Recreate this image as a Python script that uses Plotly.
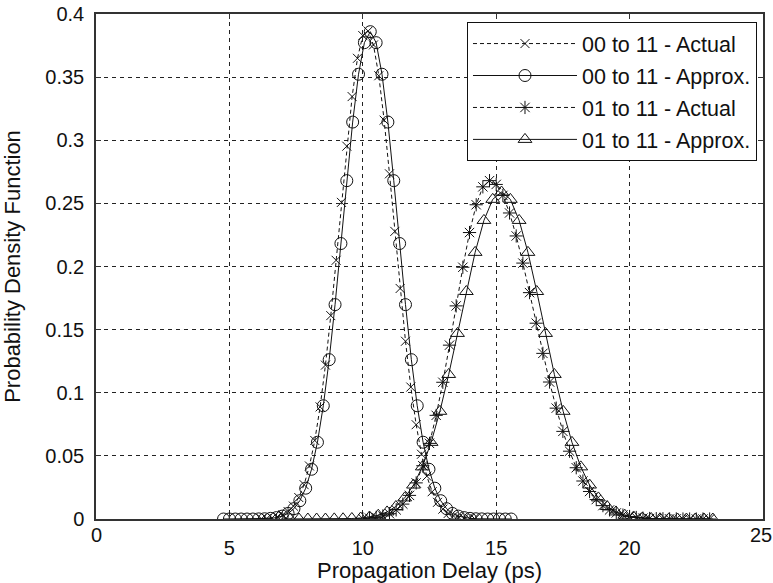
import plotly.graph_objects as go

# ---- data ----
# 00 to 11 - Actual (dashed, x markers)
x_00_actual = [6.2, 6.4, 6.6, 6.8, 7.0, 7.2, 7.4, 7.6, 7.8, 8.0, 8.2, 8.4, 8.6, 8.8, 9.0, 9.2,
               9.4, 9.6, 9.8, 10.0, 10.2, 10.4, 10.6, 10.8, 11.0, 11.2, 11.4, 11.6, 11.8, 12.0,
               12.2, 12.4, 12.6, 12.8, 13.0, 13.2, 13.4, 13.6, 13.8, 14.0, 14.2]
y_00_actual = [0.0002, 0.0004, 0.0009, 0.0018, 0.0033, 0.0059, 0.0102, 0.0170, 0.0272, 0.0420,
               0.0622, 0.0888, 0.1219, 0.1611, 0.2049, 0.2508, 0.2953, 0.3346, 0.3649, 0.3829,
               0.3865, 0.3755, 0.3511, 0.3159, 0.2734, 0.2278, 0.1826, 0.1408, 0.1045, 0.0747,
               0.0513, 0.0339, 0.0216, 0.0132, 0.0078, 0.0044, 0.0024, 0.0013, 0.0006, 0.0003, 0.0001]

# 00 to 11 - Approx. (solid, circles)
x_00_approx = [4.78, 5.00, 5.22, 5.44, 5.66, 5.88, 6.10, 6.32, 6.54, 6.76, 6.98, 7.20, 7.42,
               7.64, 7.86, 8.08, 8.30, 8.52, 8.74, 8.96, 9.18, 9.40, 9.62, 9.84, 10.06, 10.28,
               10.50, 10.72, 10.94, 11.16, 11.38, 11.60, 11.82, 12.04, 12.26, 12.48, 12.70,
               12.92, 13.14, 13.36, 13.58, 13.80, 14.02, 14.24, 14.46, 14.68, 14.90, 15.12,
               15.34, 15.56]
y_00_approx = [0, 0, 0, 0, 0, 0, 0.0001, 0.0002, 0.0005, 0.0011, 0.0023, 0.0044, 0.0082,
               0.0145, 0.0244, 0.0394, 0.0608, 0.0897, 0.1262, 0.1698, 0.2182, 0.2680, 0.3144,
               0.3523, 0.3773, 0.3860, 0.3773, 0.3523, 0.3144, 0.2680, 0.2182, 0.1698, 0.1262,
               0.0897, 0.0608, 0.0394, 0.0244, 0.0145, 0.0082, 0.0044, 0.0023, 0.0011, 0.0005,
               0.0002, 0.0001, 0, 0, 0, 0, 0]

# 01 to 11 - Actual (dashed, asterisks)
x_01_actual = [10.0, 10.25, 10.5, 10.75, 11.0, 11.25, 11.5, 11.75, 12.0, 12.25, 12.5, 12.75,
               13.0, 13.25, 13.5, 13.75, 14.0, 14.25, 14.5, 14.75, 15.0, 15.25, 15.5, 15.75,
               16.0, 16.25, 16.5, 16.75, 17.0, 17.25, 17.5, 17.75, 18.0, 18.25, 18.5, 18.75,
               19.0, 19.25, 19.5, 19.75, 20.0, 20.25, 20.5, 20.75, 21.0, 21.25, 21.5, 21.75,
               22.0, 22.25, 22.5, 22.75, 23.0]
y_01_actual = [0.0003, 0.0007, 0.0013, 0.0024, 0.0042, 0.0072, 0.0118, 0.0187, 0.0286, 0.0422,
               0.0599, 0.0821, 0.1083, 0.1377, 0.1688, 0.1994, 0.2269, 0.2489, 0.2631, 0.2680,
               0.2650, 0.2563, 0.2424, 0.2242, 0.2027, 0.1793, 0.1551, 0.1312, 0.1085, 0.0878,
               0.0694, 0.0537, 0.0406, 0.0301, 0.0218, 0.0154, 0.0106, 0.0072, 0.0048, 0.0031,
               0.0020, 0.0012, 0.0007, 0.0004, 0.0003, 0.0002, 0.0001, 0.0001, 0, 0, 0, 0, 0]

# 01 to 11 - Approx. (solid, triangles)
x_01_approx = [6.95, 7.28, 7.61, 7.94, 8.27, 8.60, 8.93, 9.26, 9.59, 9.92, 10.25, 10.58,
               10.91, 11.24, 11.57, 11.90, 12.23, 12.56, 12.89, 13.22, 13.55, 13.88, 14.21,
               14.54, 14.87, 15.20, 15.53, 15.86, 16.19, 16.52, 16.85, 17.18, 17.51, 17.84,
               18.17, 18.50, 18.83, 19.16, 19.49, 19.82, 20.15, 20.48, 20.81, 21.14, 21.47,
               21.80, 22.13, 22.46, 22.79, 23.12]
y_01_approx = [0, 0, 0, 0, 0, 0, 0.0001, 0.0002, 0.0004, 0.0008, 0.0016, 0.0030, 0.0056,
               0.0099, 0.0167, 0.0269, 0.0413, 0.0607, 0.0853, 0.1145, 0.1470, 0.1802, 0.2112,
               0.2365, 0.2532, 0.2590, 0.2532, 0.2365, 0.2112, 0.1802, 0.1470, 0.1145, 0.0853,
               0.0607, 0.0413, 0.0269, 0.0167, 0.0099, 0.0056, 0.0030, 0.0016, 0.0008, 0.0004,
               0.0002, 0.0001, 0, 0, 0, 0, 0]

x_ticks = [5, 10, 15, 20]
x_edge_ticks = [0, 25]
y_ticks = [0, 0.05, 0.1, 0.15, 0.2, 0.25, 0.3, 0.35, 0.4]
y_tick_text = ["0", "0.05", "0.1", "0.15", "0.2", "0.25", "0.3", "0.35", "0.4"]

FONT = "Liberation Sans, Arial, Helvetica, sans-serif"
INK = "#111111"
TICK_SIZE = 20
LEGEND_SIZE = 21.5
TITLE_SIZE = 22

fig = go.Figure()

def add(x, y, name, dash, symbol, size):
    fig.add_trace(go.Scatter(
        x=x, y=y, name=name, mode="lines+markers", legendgroup=name,
        line=dict(color=INK, width=1, dash=dash),
        marker=dict(symbol=symbol, size=size, color=INK,
                    line=dict(color=INK, width=1)),
    ))

add(x_00_actual, y_00_actual, "00 to 11 - Actual", "4px,3px", "x-thin-open", 9)
add(x_00_approx, y_00_approx, "00 to 11 - Approx.", "solid", "circle-open", 12)
add(x_01_actual, y_01_actual, "01 to 11 - Actual", "4px,3px", "asterisk-open", 11)
add(x_01_approx, y_01_approx, "01 to 11 - Approx.", "solid", "triangle-up-open", 12)

for v, shift in zip(x_edge_ticks, [0, -2]):
    fig.add_annotation(x=v, y=0, xref="x", yref="y", text=str(v), showarrow=False,
                       yanchor="top", yshift=-3, xshift=shift,
                       font=dict(family=FONT, size=TICK_SIZE, color=INK))

fig.update_layout(
    width=773, height=583,
    margin=dict(l=96, r=10, t=14, b=64),
    paper_bgcolor="white", plot_bgcolor="white",
    font=dict(family=FONT, size=TICK_SIZE, color=INK),
    showlegend=True,
    legend=dict(x=0.991, y=0.984, xanchor="right", yanchor="top",
                bgcolor="white", bordercolor=INK, borderwidth=1,
                font=dict(family=FONT, size=LEGEND_SIZE, color=INK),
                tracegroupgap=1, itemwidth=104),
    xaxis=dict(range=[0, 25], tickvals=x_ticks, ticks="inside", ticklen=5,
               tickcolor="#333", showline=True, linecolor="#333", linewidth=1.5,
               mirror="ticks", showgrid=True, gridcolor="#222", griddash="4px,4px",
               gridwidth=1, zeroline=False, ticklabelstandoff=10, automargin=False,
               ticklabeloverflow="allow", tickfont=dict(size=TICK_SIZE),
               title=dict(text="Propagation Delay (ps)", font=dict(size=TITLE_SIZE), standoff=0)),
    yaxis=dict(range=[0, 0.4], tickvals=y_ticks, ticktext=y_tick_text, ticks="inside",
               ticklen=5, tickcolor="#333", showline=True, linecolor="#333", linewidth=1.5,
               mirror="ticks", showgrid=True, gridcolor="#222", griddash="4px,4px",
               gridwidth=1, zeroline=False, ticklabelstandoff=6, automargin=False,
               ticklabeloverflow="allow", tickfont=dict(size=TICK_SIZE),
               title=dict(text="Probability Density Function", font=dict(size=TITLE_SIZE), standoff=20)),
)

# remove the default 8px page margin so the figure fills the 773x583 window
fig.write_html("out.html", config={"displayModeBar": False},
               post_script="document.body.style.margin='0';")
